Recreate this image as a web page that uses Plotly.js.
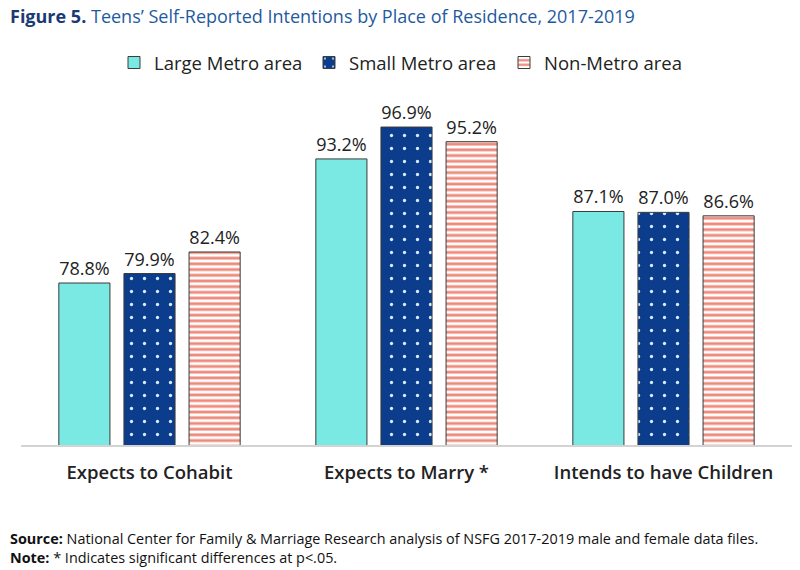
<!DOCTYPE html>
<html>
<head>
<meta charset="utf-8">
<script src="https://cdn.plot.ly/plotly-3.0.1.min.js"></script>
<style>
  html, body { margin: 0; padding: 0; background: #ffffff; }
  #chart { width: 800px; height: 570px; }
</style>
</head>
<body>
<div id="chart"></div>
<script>
// Teens' self-reported intentions by place of residence (NSFG 2017-2019)
const categories = ['Expects to Cohabit', 'Expects to Marry *', 'Intends to have Children'];
const seriesNames = ['Large Metro area', 'Small Metro area', 'Non-Metro area'];
const largeMetro = [78.8, 93.2, 87.1];
const smallMetro = [79.9, 96.9, 87.0];
const nonMetro = [82.4, 95.2, 86.6];

const FONT = '"Open Sans", "Noto Sans", sans-serif';
const outline = { color: '#3a3a3a', width: 1 };

// plot area in pixels
const PLOT_TOP = 90, PLOT_BOTTOM = 445, PLOT_H = PLOT_BOTTOM - PLOT_TOP;

function barTrace(name, values, marker) {
  return {
    type: 'bar',
    name: name,
    x: categories,
    y: values,
    marker: Object.assign({ line: outline }, marker),
    texttemplate: '%{y:.1f}%',
    textposition: 'outside',
    cliponaxis: false,
    textfont: { family: FONT, size: 18, color: '#222222' },
    hoverinfo: 'skip'
  };
}

const traces = [
  barTrace(seriesNames[0], largeMetro, { color: '#7ae8e3' }),
  barTrace(seriesNames[1], smallMetro, {
    color: '#0c3d8c',
    pattern: { shape: '.', bgcolor: '#0c3d8c', fgcolor: '#d8ecff', size: 13, solidity: 0.05, fillmode: 'replace' }
  }),
  barTrace(seriesNames[2], nonMetro, {
    color: '#ffffff',
    pattern: { shape: '-', bgcolor: '#ffffff', fgcolor: '#ee8a7b', size: 5.7, solidity: 0.5, fillmode: 'replace' }
  })
];

const layout = {
  width: 800,
  height: 570,
  paper_bgcolor: '#ffffff',
  plot_bgcolor: '#ffffff',
  margin: { l: 21, r: 8, t: PLOT_TOP, b: 570 - PLOT_BOTTOM },
  barmode: 'group',
  bargap: 0.24,
  bargroupgap: 0.215,
  showlegend: true,
  legend: {
    orientation: 'h',
    x: 0.5, xanchor: 'center',
    y: 1 + 8 / PLOT_H, yanchor: 'bottom',
    font: { family: FONT, size: 18.5, color: '#222222' },
    itemwidth: 30,
    entrywidth: 150,
    traceorder: 'normal'
  },
  xaxis: {
    showline: true,
    linecolor: '#d3d3d3',
    linewidth: 1.5,
    ticks: '',
    ticklabelstandoff: 10,
    tickfont: { family: FONT, size: 18.5, color: '#222222', weight: 600 },
    showgrid: false,
    fixedrange: true
  },
  yaxis: {
    range: [60, 101.2],
    visible: false,
    showgrid: false,
    zeroline: false,
    fixedrange: true
  },
  annotations: [
    {
      xref: 'paper', yref: 'paper',
      x: -0.017, y: 1 + (PLOT_TOP - 16) / PLOT_H,
      xanchor: 'left', yanchor: 'middle',
      text: '<b>Figure 5.</b> <span style="color:#1f5aa0">Teens\u2019 Self-Reported Intentions by Place of Residence, 2017-2019</span>',
      showarrow: false,
      font: { family: FONT, size: 18, color: '#1b3a73' }
    },
    {
      xref: 'paper', yref: 'paper',
      x: -0.017, y: -(527 - PLOT_BOTTOM) / PLOT_H,
      xanchor: 'left', yanchor: 'top',
      align: 'left',
      text: '<b>Source:</b> National Center for Family &amp; Marriage Research analysis of NSFG 2017-2019 male and female data files.<br><b>Note:</b> * Indicates significant differences at p&lt;.05.',
      showarrow: false,
      font: { family: FONT, size: 14.4, color: '#111111' }
    }
  ]
};

Plotly.newPlot('chart', traces, layout, { displayModeBar: false, staticPlot: true });
</script>
</body>
</html>
